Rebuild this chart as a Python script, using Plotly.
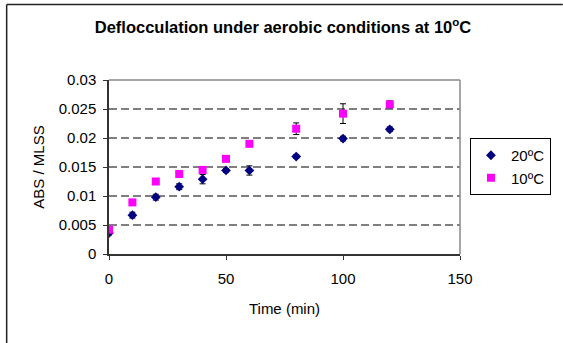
import plotly.graph_objects as go

time = [0, 10, 20, 30, 40, 50, 60, 80, 100, 120]
abs_20 = [0.0036, 0.0067, 0.0098, 0.0116, 0.0129, 0.0144, 0.0144, 0.0168, 0.0199, 0.0215]
err_20 = [0.0003, 0.0005, 0.0005, 0.0005, 0.0008, 0.0003, 0.0008, 0.0003, 0.0004, 0.0004]
abs_10 = [0.0042, 0.0089, 0.0125, 0.0138, 0.0145, 0.0164, 0.0190, 0.0216, 0.0242, 0.0258]
err_10 = [0.0003, 0.0003, 0.0004, 0.0004, 0.0003, 0.0003, 0.0003, 0.0010, 0.0017, 0.0006]
y_ticks = [0, 0.005, 0.01, 0.015, 0.02, 0.025, 0.03]
y_tick_labels = ["0", "0.005", "0.01", "0.015", "0.02", "0.025", "0.03"]
x_ticks = [0, 50, 100, 150]

FONT = "Liberation Sans, Arial, sans-serif"

fig = go.Figure()
fig.add_trace(go.Scatter(
    x=time, y=abs_20, mode="markers", name="20ºC",
    marker=dict(symbol="diamond", size=7.5, color="#000080"),
    error_y=dict(type="data", array=err_20, color="black", thickness=1, width=3),
))
fig.add_trace(go.Scatter(
    x=time, y=abs_10, mode="markers", name="10ºC",
    marker=dict(symbol="square", size=8, color="#FF00FF"),
    error_y=dict(type="data", array=err_10, color="black", thickness=1, width=3),
))

L, R, T, B = 109, 99, 80, 89
W, H = 563, 343
pw, ph = W - L - R, H - T - B

for yv in y_ticks[1:-1]:
    fig.add_shape(type="line", xref="paper", yref="y", x0=0, x1=1, y0=yv, y1=yv,
                  line=dict(color="#000000", width=1, dash="8px,4px"), layer="below")

# plot area top / right border (gray)
fig.add_shape(type="line", xref="paper", yref="paper", x0=0, x1=1, y0=1, y1=1,
              line=dict(color="#888888", width=1.5))
fig.add_shape(type="line", xref="paper", yref="paper", x0=1, x1=1, y0=0, y1=1,
              line=dict(color="#888888", width=1.5))
# chart outer frame (top and left visible)
fx0 = (5.5 - L) / pw
fy1 = (H - 4.5 - B) / ph
fig.add_shape(type="line", xref="paper", yref="paper", x0=fx0, x1=(W + 5 - L) / pw, y0=fy1, y1=fy1,
              line=dict(color="#222222", width=1.5))
fig.add_shape(type="line", xref="paper", yref="paper", x0=fx0, x1=fx0, y0=(-B - 5) / ph, y1=fy1,
              line=dict(color="#222222", width=1.5))

fig.update_layout(
    width=W, height=H,
    margin=dict(l=L, r=R, t=T, b=B, pad=0),
    paper_bgcolor="white", plot_bgcolor="white",
    font=dict(family=FONT, size=15, color="black"),
    title=dict(text="<b>Deflocculation under aerobic conditions at 10<sup>o</sup>C</b>",
               x=(285 - L) / pw, xref="paper", xanchor="center",
               y=1 - 27 / H, yanchor="middle", yref="container",
               font=dict(family=FONT, size=16.5, color="black")),
    showlegend=True,
    legend=dict(x=(556 - L) / pw, y=(H - 138 - B) / ph, xanchor="right", yanchor="top",
                bordercolor="black", borderwidth=1, bgcolor="white",
                font=dict(family=FONT, size=15, color="black"),
                itemwidth=30),
    xaxis=dict(range=[0, 150], tickvals=x_ticks, showgrid=False, zeroline=False,
               showline=True, linecolor="#333333", linewidth=1.5,
               ticks="outside", ticklen=4, tickcolor="#333333",
               ticklabelstandoff=6,
               tickfont=dict(family=FONT, size=15),
               title=dict(text="Time (min)", font=dict(family=FONT, size=15), standoff=18)),
    yaxis=dict(range=[0, 0.03], tickvals=y_ticks, ticktext=y_tick_labels,
               showgrid=False, zeroline=False,
               showline=True, linecolor="#333333", linewidth=1.5,
               ticks="outside", ticklen=4, tickcolor="#333333",
               ticklabelstandoff=4,
               tickfont=dict(family=FONT, size=15),
               title=dict(text="ABS / MLSS", font=dict(family=FONT, size=15), standoff=10)),
)

fig.write_html("out.html")
